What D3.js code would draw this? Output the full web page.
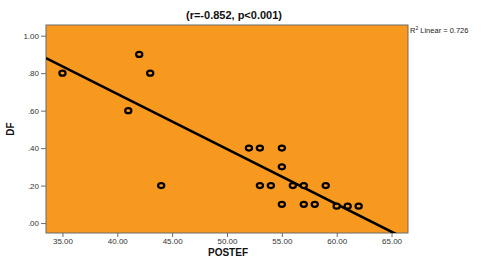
<!DOCTYPE html>
<html><head><meta charset="utf-8">
<script src="https://cdn.jsdelivr.net/npm/d3@7"></script>
<style>body{margin:0;background:#fff}svg{display:block}</style>
</head><body>
<script>
const postef = [35,41,42,43,44,52,53,53,54,55,55,55,56,57,57,58,59,60,61,62];
const df     = [0.80,0.60,0.90,0.80,0.20,0.40,0.40,0.20,0.20,0.40,0.30,0.10,0.20,0.20,0.10,0.10,0.20,0.09,0.09,0.09];
const xTicks = [35,40,45,50,55,60,65];
const yTicks = [0,0.2,0.4,0.6,0.8,1.0];
const title = "(r=-0.852, p<0.001)";
const r2Label = "Linear = 0.726";

const W=481,H=261;
const L=46,R=408,T=25,B=233;
const svg=d3.select("body").append("svg").attr("width",W).attr("height",H);
const x=d3.scaleLinear().domain([33.5,66.5]).range([L,R]);
const y=d3.scaleLinear().domain([-0.053,1.057]).range([B,T]);

svg.append("rect").attr("x",L).attr("y",T).attr("width",R-L).attr("height",B-T)
  .attr("fill","#F8991F").attr("stroke","#6b6b6b").attr("stroke-width",1);

const fmtY=d=>{const s=d3.format(".2f")(d);return s.startsWith("0")?s.slice(1):s;};
const ya=svg.append("g").attr("transform",`translate(${L},0)`)
  .call(d3.axisLeft(y).tickValues(yTicks).tickFormat(fmtY).tickSize(5).tickPadding(2));
const xa=svg.append("g").attr("transform",`translate(0,${B})`)
  .call(d3.axisBottom(x).tickValues(xTicks).tickFormat(d3.format(".2f")).tickSize(4).tickPadding(1));
[ya,xa].forEach(a=>{a.select(".domain").remove();
  a.selectAll("line").attr("stroke","#6b6b6b");
  a.selectAll("text").attr("fill","#333").style("font-family","Liberation Sans, Arial, sans-serif").style("font-size","8px");});

// regression line
const n=postef.length, mx=d3.mean(postef), my=d3.mean(df);
let sxy=0,sxx=0;for(let i=0;i<n;i++){sxy+=(postef[i]-mx)*(df[i]-my);sxx+=(postef[i]-mx)**2;}
const slope=sxy/sxx, icpt=my-slope*mx;
svg.append("clipPath").attr("id","cp").append("rect").attr("x",L).attr("y",T).attr("width",R-L).attr("height",B-T);
const xd=x.domain();
svg.append("line").attr("clip-path","url(#cp)")
  .attr("x1",x(xd[0])).attr("y1",y(icpt+slope*xd[0]))
  .attr("x2",x(xd[1])).attr("y2",y(icpt+slope*xd[1]))
  .attr("stroke","#000").attr("stroke-width",2.6);

svg.append("g").selectAll("ellipse").data(postef.map((v,i)=>[v,df[i]])).join("ellipse")
  .attr("cx",d=>x(d[0])).attr("cy",d=>y(d[1])).attr("rx",3.1).attr("ry",2.5)
  .attr("fill","#F8991F").attr("stroke","#000").attr("stroke-width",2.2);

svg.append("text").attr("x",234).attr("y",19).attr("text-anchor","middle")
  .style("font-family","Liberation Sans, Arial, sans-serif").style("font-weight","bold").style("font-size","11px")
  .attr("fill","#111").text(title);

const rt=svg.append("text").attr("x",R+2).attr("y",33)
  .style("font-family","Liberation Sans, Arial, sans-serif").style("font-size","7.5px").attr("fill","#222");
rt.append("tspan").text("R");
rt.append("tspan").attr("dy",-3).style("font-size","5px").text("2");
rt.append("tspan").attr("dy",3).text(" "+r2Label);

svg.append("text").attr("x",228).attr("y",256).attr("text-anchor","middle")
  .style("font-family","Liberation Sans, Arial, sans-serif").style("font-weight","bold").style("font-size","10px")
  .attr("fill","#111").text("POSTEF");
svg.append("text").attr("transform","translate(14,129) rotate(-90)").attr("text-anchor","middle")
  .style("font-family","Liberation Sans, Arial, sans-serif").style("font-weight","bold").style("font-size","10px")
  .attr("fill","#111").text("DF");
</script>
</body></html>
